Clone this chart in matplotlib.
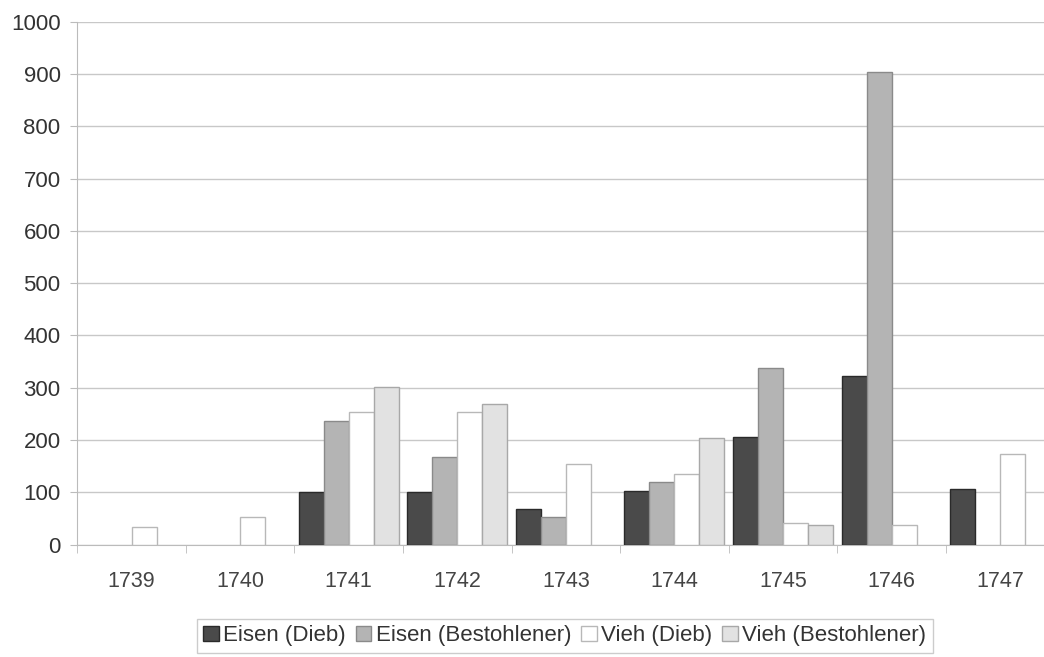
import numpy as np
import matplotlib.pyplot as plt

years = ['1739', '1740', '1741', '1742', '1743', '1744', '1745', '1746', '1747']
eisen_dieb = [0, 0, 100, 100, 69, 103, 206, 322, 106]
eisen_bestohlener = [0, 0, 236, 168, 52, 120, 338, 903, 0]
vieh_dieb = [33, 53, 254, 254, 155, 136, 42, 37, 173]
vieh_bestohlener = [0, 0, 302, 269, 0, 203, 37, 0, 0]

series = [
    ('Eisen (Dieb)', eisen_dieb, '#4a4a4a', '#2a2a2a'),
    ('Eisen (Bestohlener)', eisen_bestohlener, '#b4b4b4', '#8a8a8a'),
    ('Vieh (Dieb)', vieh_dieb, '#ffffff', '#b8b8b8'),
    ('Vieh (Bestohlener)', vieh_bestohlener, '#e2e2e2', '#a8a8a8'),
]

plt.rcParams['font.family'] = ['Liberation Sans', 'DejaVu Sans']

fig = plt.figure(figsize=(10.44, 6.57), dpi=100)
ax = fig.add_axes([0.074, 0.171, 0.936, 0.796])

x = np.arange(len(years))
w = 0.23
for i, (name, vals, fc, ec) in enumerate(series):
    # empty years get no bar at all (no edge sliver on the baseline)
    h = np.array(vals, dtype=float)
    h[h == 0] = np.nan
    ax.bar(x + (i - 1.5) * w, h, w, color=fc, edgecolor=ec,
           linewidth=1.0, label=name, zorder=3)

ax.set_xlim(-0.5, len(years) - 0.5)
ax.set_ylim(0, 1000)
ax.set_yticks(range(0, 1001, 100))
ax.yaxis.grid(True, color='#c8c8c8', linewidth=1.0, zorder=0)

# category labels centred, tick marks between groups
ax.set_xticks(x)
ax.set_xticklabels(years, fontsize=15.5, color='#444444')
ax.set_xticks(np.arange(len(years) + 1) - 0.5, minor=True)
ax.tick_params(axis='x', which='major', length=0, pad=19)
ax.tick_params(axis='x', which='minor', length=6, color='#bbbbbb')
ax.tick_params(axis='y', length=5, color='#bbbbbb', labelsize=16,
               labelcolor='#333333', pad=7)

for side in ['top', 'right']:
    ax.spines[side].set_visible(False)
for side in ['left', 'bottom']:
    ax.spines[side].set_color('#bbbbbb')

leg = fig.legend(loc='center', bbox_to_anchor=(0.541, 0.032), ncol=4,
                 fontsize=16, frameon=True, fancybox=False,
                 handlelength=0.7, handleheight=0.7, handletextpad=0.2,
                 columnspacing=0.45, borderpad=0.3, borderaxespad=0)
leg.get_frame().set_edgecolor('#c0c0c0')
leg.get_frame().set_linewidth(1.0)
for t in leg.get_texts():
    t.set_color('#333333')

fig.savefig('out.png', dpi=100)
